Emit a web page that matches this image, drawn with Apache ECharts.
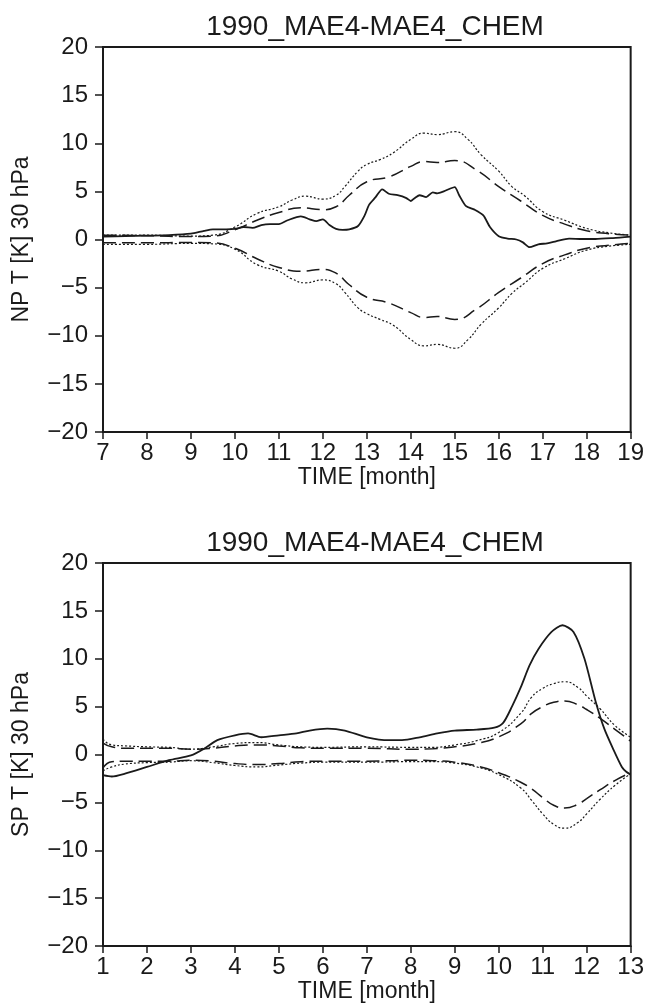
<!DOCTYPE html>
<html>
<head>
<meta charset="utf-8">
<script src="https://cdn.jsdelivr.net/npm/echarts@6/dist/echarts.min.js"></script>
<style>
html,body{margin:0;padding:0;background:#fff;}
#c{width:647px;height:1004px;}
</style>
</head>
<body>
<div id="c"></div>
<script>
// ---------- Titles / labels ----------
const titleText = "1990_MAE4-MAE4_CHEM";
const npYName = "NP T [K] 30 hPa";
const spYName = "SP T [K] 30 hPa";
const xName = "TIME [month]";

// ---------- Top panel (NP), months 7..19 ----------
const npSolidX = [7, 7.5, 8, 8.5, 9, 9.3, 9.5, 9.8, 10, 10.2, 10.4, 10.6, 10.8, 11, 11.2, 11.5, 11.7, 11.85, 12, 12.15, 12.3, 12.45, 12.6, 12.8, 12.95, 13.05, 13.2, 13.35, 13.5, 13.7, 13.9, 14.0, 14.1, 14.2, 14.35, 14.5, 14.6, 14.75, 14.9, 15.0, 15.1, 15.25, 15.45, 15.65, 15.8, 16.0, 16.2, 16.4, 16.55, 16.7, 16.9, 17.1, 17.3, 17.6, 17.9, 18.2, 18.6, 19];
const npSolidY = [0.3, 0.35, 0.4, 0.45, 0.6, 0.9, 1.05, 1.05, 1.1, 1.3, 1.2, 1.5, 1.6, 1.6, 2.0, 2.4, 2.1, 1.9, 2.1, 1.5, 1.1, 1.0, 1.05, 1.4, 2.5, 3.6, 4.4, 5.2, 4.75, 4.6, 4.3, 4.0, 4.35, 4.6, 4.4, 4.9, 4.8, 5.0, 5.3, 5.45, 4.6, 3.5, 3.1, 2.5, 1.3, 0.35, 0.1, 0.0, -0.3, -0.8, -0.5, -0.4, -0.2, 0.1, 0.05, 0.05, 0.15, 0.3];

const npDotX = [7, 8, 9, 9.5, 10, 10.5, 11, 11.3, 11.6, 12, 12.3, 12.5, 12.8, 13, 13.3, 13.6, 14, 14.3, 14.6, 15, 15.3, 15.6, 16, 16.3, 16.6, 17, 17.5, 18, 18.5, 19];
const npDotUpY = [0.45, 0.45, 0.35, 0.45, 1.3, 2.7, 3.4, 4.1, 4.5, 4.2, 4.6, 5.5, 7.1, 7.8, 8.3, 9.0, 10.4, 11.05, 10.9, 11.2, 10.4, 8.8, 7.1, 5.5, 4.5, 2.9, 2.0, 1.15, 0.7, 0.45];
const npDotLoY = [-0.5, -0.5, -0.4, -0.45, -1.0, -2.6, -3.3, -4.1, -4.5, -4.2, -4.6, -5.5, -7.1, -7.7, -8.3, -8.9, -10.4, -11.05, -10.9, -11.3, -10.4, -8.8, -7.1, -5.6, -4.5, -3.0, -2.0, -1.1, -0.7, -0.5];

const npDashX = [7, 8, 9, 9.5, 10, 10.5, 11, 11.5, 12, 12.3, 12.6, 13, 13.5, 14, 14.3, 14.6, 15, 15.5, 16, 16.5, 17, 17.5, 18, 18.5, 19];
const npDashUpY = [0.45, 0.4, 0.3, 0.35, 1.0, 2.0, 2.8, 3.3, 3.1, 3.4, 4.6, 6.0, 6.5, 7.6, 8.1, 8.0, 8.2, 7.2, 5.5, 4.0, 2.5, 1.6, 0.9, 0.6, 0.45];
const npDashLoY = [-0.35, -0.35, -0.3, -0.35, -0.9, -2.0, -2.9, -3.3, -3.1, -3.5, -4.7, -6.0, -6.6, -7.6, -8.1, -8.0, -8.3, -7.2, -5.5, -4.0, -2.5, -1.6, -0.9, -0.6, -0.4];

// ---------- Bottom panel (SP), months 1..13 ----------
const spSolidX = [1, 1.2, 1.5, 2, 2.5, 3, 3.3, 3.6, 4, 4.3, 4.6, 5, 5.4, 5.7, 6.1, 6.5, 7, 7.5, 7.8, 8.2, 8.6, 9, 9.5, 9.9, 10.1, 10.3, 10.5, 10.7, 10.9, 11.2, 11.45, 11.7, 11.95, 12.2, 12.4, 12.6, 12.8, 12.9, 13];
const spSolidY = [-2.15, -2.3, -2.0, -1.3, -0.6, -0.1, 0.6, 1.5, 2.0, 2.2, 1.8, 2.0, 2.2, 2.5, 2.7, 2.5, 1.8, 1.5, 1.5, 1.8, 2.2, 2.5, 2.6, 2.8, 3.3, 5.0, 7.0, 9.3, 11.0, 12.8, 13.5, 12.8, 10.0, 5.6, 2.7, 0.6, -1.3, -1.8, -2.1];

const spEnvX = [1, 1.2, 1.5, 2, 2.5, 3, 3.5, 4, 4.5, 5, 5.5, 6, 7, 8, 8.5, 9, 9.5, 10, 10.5, 10.75, 11, 11.25, 11.5, 11.8, 12, 12.3, 12.65, 13];
const spDotUpY = [1.6, 1.0, 0.9, 0.8, 0.75, 0.55, 0.8, 1.15, 1.25, 1.0, 0.8, 0.75, 0.8, 0.75, 0.75, 1.0, 1.45, 2.3, 4.3, 6.0, 6.9, 7.4, 7.6, 7.0, 6.1, 4.8, 3.0, 1.8];
const spDotLoY = [-1.7, -1.3, -1.0, -0.85, -0.8, -0.65, -0.85, -1.15, -1.3, -1.1, -0.9, -0.8, -0.8, -0.75, -0.75, -0.9, -1.3, -2.1, -3.5, -4.8, -6.2, -7.3, -7.7, -7.1, -6.2, -4.7, -3.2, -2.0];
const spDashUpY = [1.2, 0.8, 0.65, 0.65, 0.65, 0.55, 0.65, 0.9, 1.0, 0.9, 0.7, 0.65, 0.65, 0.55, 0.6, 0.8, 1.15, 1.85, 3.2, 4.3, 5.0, 5.45, 5.6, 5.2, 4.7, 3.8, 2.6, 1.4];
const spDashLoY = [-1.4, -0.75, -0.7, -0.7, -0.7, -0.6, -0.7, -0.95, -1.05, -0.95, -0.75, -0.7, -0.7, -0.6, -0.65, -0.8, -1.2, -1.9, -2.9, -3.6, -4.5, -5.3, -5.6, -5.2, -4.6, -3.7, -2.7, -1.9];

// ---------- axis ranges ----------
const npXRange = [7, 19];
const spXRange = [1, 13];
const yRange = [-20, 20];
const yStep = 5;
const xStep = 1;

// ---------- build ----------
const FONT = "Liberation Sans";
const INK = "#1a1a1a";
function zip(xs, ys){ return xs.map((x,i)=>[x, ys[i]]); }
const minusFmt = v => String(v).replace('-', '\u2212');

function xAxisCfg(gi, range){
  return {
    type:'value', gridIndex:gi, min:range[0], max:range[1], interval:xStep,
    name:xName, nameLocation:'middle', nameGap:31,
    nameTextStyle:{fontFamily:FONT, fontSize:23, color:INK, verticalAlign:'top'},
    axisLine:{show:true, onZero:false, lineStyle:{color:INK, width:2}},
    axisTick:{show:true, inside:false, length:7, lineStyle:{color:INK, width:1.5}},
    axisLabel:{margin:9, fontFamily:FONT, fontSize:24, color:INK, formatter:minusFmt},
    splitLine:{show:false}
  };
}
function yAxisCfg(gi, name){
  return {
    type:'value', gridIndex:gi, min:yRange[0], max:yRange[1], interval:yStep,
    name:name, nameLocation:'middle', nameGap:70, nameRotate:90,
    nameTextStyle:{fontFamily:FONT, fontSize:23, color:INK},
    axisLine:{show:true, onZero:false, lineStyle:{color:INK, width:2}},
    axisTick:{show:true, inside:false, length:8, lineStyle:{color:INK, width:1.5}},
    axisLabel:{margin:15, fontFamily:FONT, fontSize:24, color:INK, formatter:minusFmt},
    splitLine:{show:false}
  };
}
function line(gi, data, kind){
  let ls;
  if(kind==='solid') ls = {color:INK, width:1.8, type:'solid'};
  else if(kind==='dash') ls = {color:INK, width:1.5, type:[13,6]};
  else ls = {color:INK, width:1.2, type:[2,2]};
  return {
    type:'line', xAxisIndex:gi, yAxisIndex:gi, data:data,
    showSymbol:false, symbol:'none', smooth: kind==='solid' ? 0.25 : 0.5,
    lineStyle:ls, silent:true, animation:false, z: kind==='solid'?3:2
  };
}

const chart = echarts.init(document.getElementById('c'), null, {renderer:'canvas'});
chart.setOption({
  backgroundColor:'#fff',
  animation:false,
  title:[
    {text:titleText, left:370, top:8, textAlign:'center',
     textStyle:{fontFamily:FONT, fontSize:28, fontWeight:'normal', color:INK}},
    {text:titleText, left:370, top:524, textAlign:'center',
     textStyle:{fontFamily:FONT, fontSize:28, fontWeight:'normal', color:INK}}
  ],
  grid:[
    {left:103, top:47, width:530, height:385, show:true, borderColor:INK, borderWidth:2, backgroundColor:'transparent'},
    {left:103, top:563, width:530, height:383, show:true, borderColor:INK, borderWidth:2, backgroundColor:'transparent'}
  ],
  xAxis:[xAxisCfg(0, npXRange), xAxisCfg(1, spXRange)],
  yAxis:[yAxisCfg(0, npYName), yAxisCfg(1, spYName)],
  series:[
    line(0, zip(npDotX, npDotUpY), 'dot'),
    line(0, zip(npDotX, npDotLoY), 'dot'),
    line(0, zip(npDashX, npDashUpY), 'dash'),
    line(0, zip(npDashX, npDashLoY), 'dash'),
    line(0, zip(npSolidX, npSolidY), 'solid'),
    line(1, zip(spEnvX, spDotUpY), 'dot'),
    line(1, zip(spEnvX, spDotLoY), 'dot'),
    line(1, zip(spEnvX, spDashUpY), 'dash'),
    line(1, zip(spEnvX, spDashLoY), 'dash'),
    line(1, zip(spSolidX, spSolidY), 'solid')
  ]
});
</script>
</body>
</html>
